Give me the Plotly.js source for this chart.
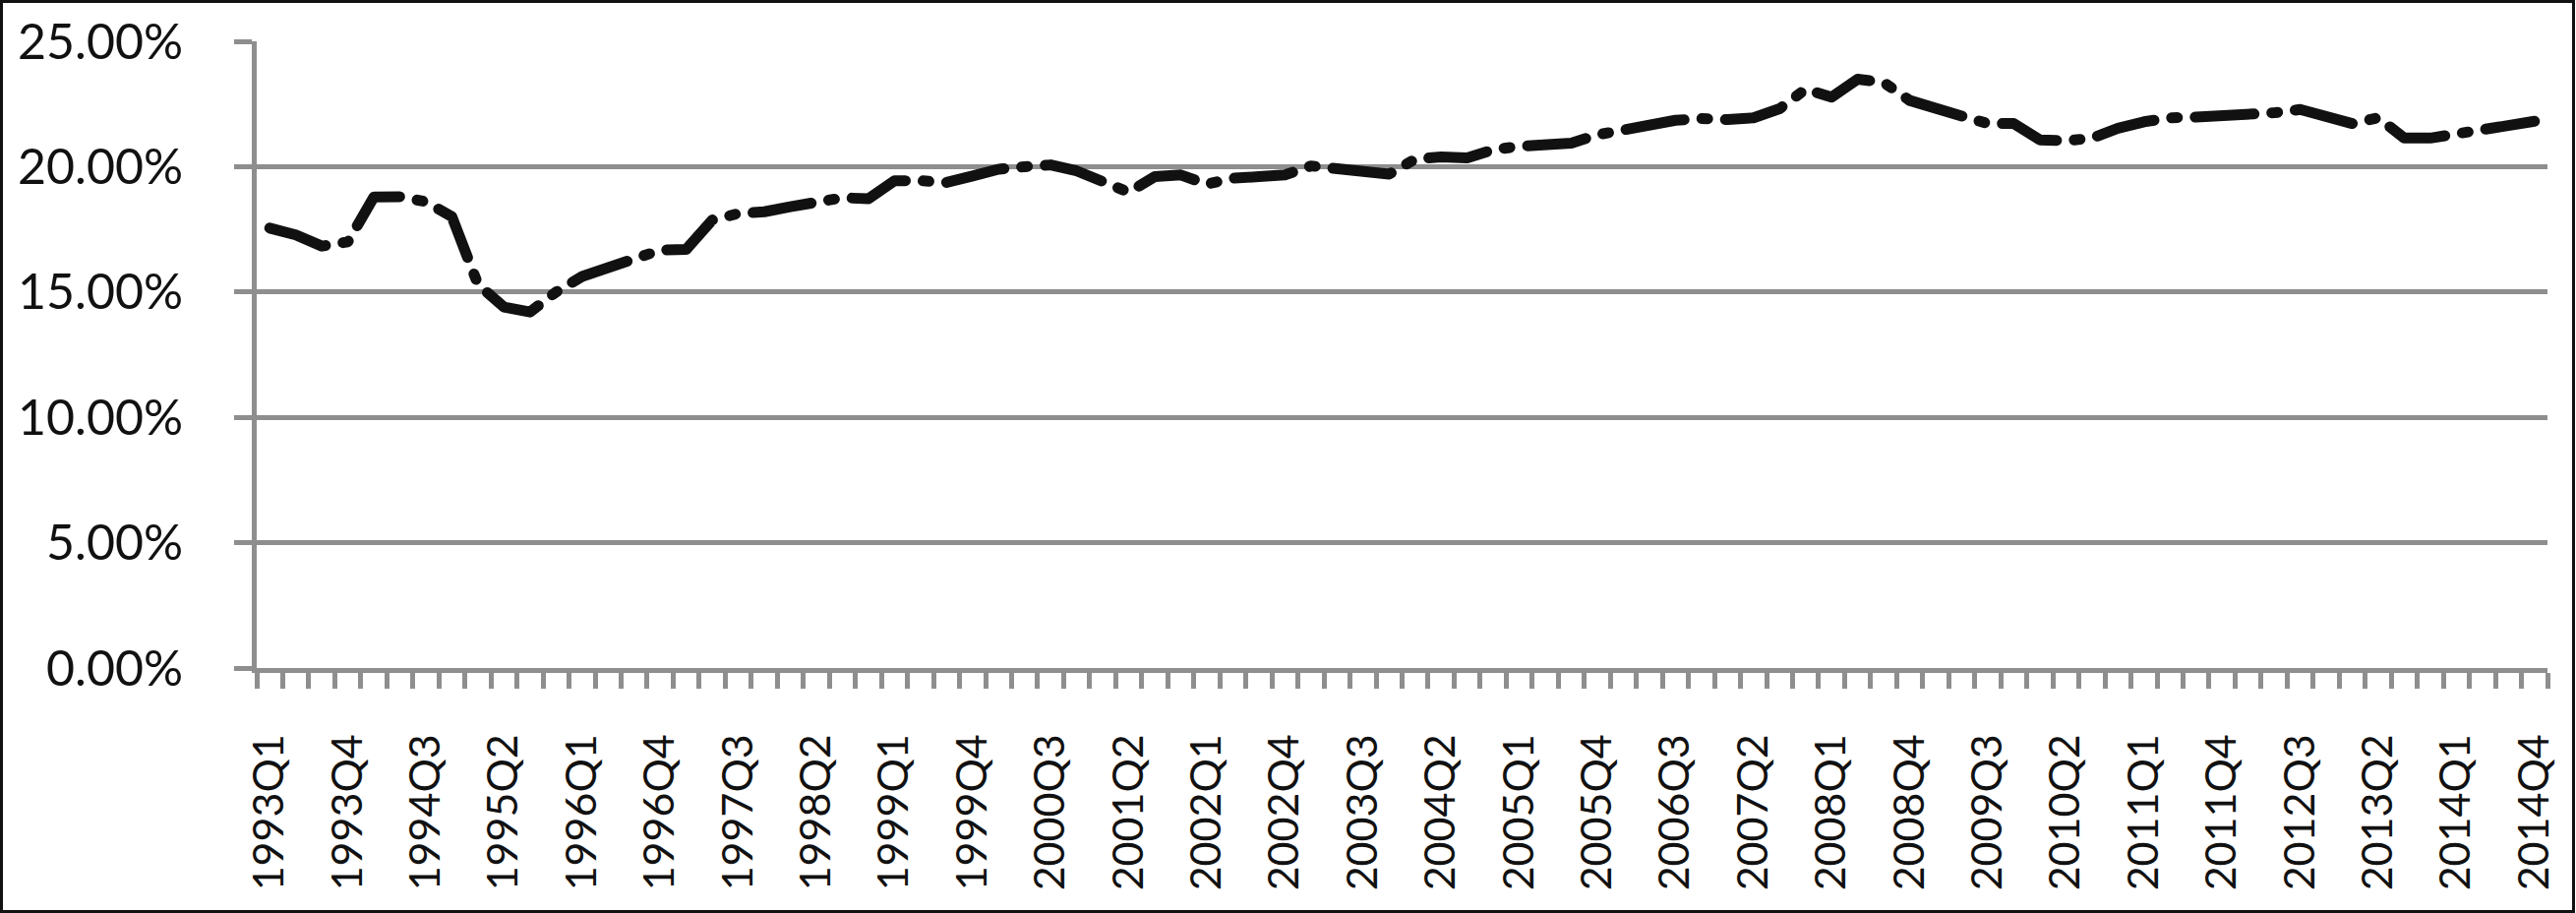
<!DOCTYPE html>
<html>
<head>
<meta charset="utf-8">
<script src="https://cdn.plot.ly/plotly-3.0.1.min.js"></script>
<style>
  body { margin: 0; background: #fff; }
  #chart { width: 2619px; height: 928px; }
  #frame { position: absolute; left: 0; top: 0; width: 2618px; height: 928px;
           box-sizing: border-box; border: 3px solid #111; pointer-events: none; }
  /* Excel-like round dash ends */
  .scatterlayer .js-line { stroke-linecap: round; stroke-linejoin: round; }
</style>
</head>
<body>
<div id="chart"></div>
<div id="frame"></div>
<script>
let years = [1993, 1994, 1995, 1996, 1997, 1998, 1999, 2000, 2001, 2002, 2003,
             2004, 2005, 2006, 2007, 2008, 2009, 2010, 2011, 2012, 2013, 2014];
let quarterNames = ['Q1', 'Q2', 'Q3', 'Q4'];

// share in percent, one value per quarter 1993Q1..2014Q4
let share = [
  17.55, 17.28, 16.83, 17.00, 18.79, 18.80, 18.60, 18.00,
  15.30, 14.40, 14.20, 15.00, 15.62, 15.98, 16.30, 16.67,
  16.70, 17.87, 18.13, 18.20, 18.40, 18.56, 18.76, 18.72,
  19.44, 19.44, 19.37, 19.63, 19.90, 20.00, 20.07, 19.83,
  19.37, 18.98, 19.60, 19.67, 19.30, 19.54, 19.60, 19.67,
  20.03, 19.90, 19.77, 19.70, 20.30, 20.39, 20.35, 20.68,
  20.81, 20.90, 20.94, 21.27, 21.46, 21.59, 21.85, 21.92,
  21.88, 21.95, 22.31, 23.09, 22.77, 23.49, 23.36, 22.64,
  22.38, 22.02, 21.72, 21.72, 21.07, 21.03, 21.14, 21.53,
  21.79, 21.95, 21.98, 22.02, 22.02, 22.15, 22.28, 22.05,
  21.72, 21.95, 21.14, 21.14, 21.29, 21.46, 21.62, 21.81
];

let quarters = [];
years.forEach(function(y){
  quarterNames.forEach(function(q){ quarters.push(y + q); });
});

// every third quarter gets a label
let labelStep = 3;
let idx = quarters.map(function(q, i){ return i; });
let tickIdx = idx.filter(function(i){ return i % labelStep === 0; });
let tickText = tickIdx.map(function(i){ return quarters[i]; });

let gray = '#8e8e8e';

function generate_chart(){
  let data = [{
    x: idx,
    y: share,
    text: quarters,
    type: 'scatter',
    mode: 'lines',
    line: {color: '#111111', width: 11, dash: '60px,18px,6px,18px'},
    hoverinfo: 'text+y'
  }];
  let layout = {
    width: 2619,
    height: 928,
    margin: {l: 261, r: 29, t: 42, b: 249},
    paper_bgcolor: '#ffffff',
    plot_bgcolor: '#ffffff',
    showlegend: false,
    font: {family: 'Lato, sans-serif', size: 48, color: '#111111'},
    xaxis: {
      range: [-0.5, quarters.length - 0.5],
      tickmode: 'array',
      tickvals: tickIdx,
      ticktext: tickText,
      tickangle: -90,
      tickfont: {size: 43},
      ticks: '',
      ticklabelstandoff: 45,
      showgrid: false,
      zeroline: false,
      showline: true,
      linecolor: gray,
      linewidth: 5,
      minor: {
        ticks: 'outside',
        tickmode: 'linear',
        tick0: -0.5,
        dtick: 1,
        ticklen: 16,
        tickwidth: 5,
        tickcolor: gray,
        showgrid: false
      }
    },
    yaxis: {
      range: [0, 25],
      tick0: 0,
      dtick: 5,
      tickformat: '.2f',
      ticksuffix: '%',
      tickfont: {size: 50},
      showgrid: true,
      gridcolor: gray,
      gridwidth: 5,
      zeroline: false,
      showline: true,
      linecolor: gray,
      linewidth: 5,
      ticks: 'outside',
      ticklen: 18,
      tickwidth: 5,
      tickcolor: gray,
      ticklabelstandoff: 42
    }
  };
  Plotly.newPlot(document.getElementById('chart'), data, layout, {displayModeBar: false});
}

generate_chart();
</script>
</body>
</html>
